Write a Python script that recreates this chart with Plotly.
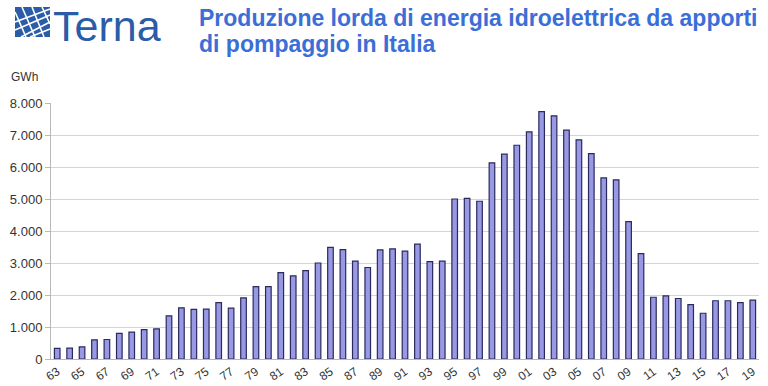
import plotly.graph_objects as go

years = [f"{y % 100:02d}" for y in range(1963, 2020)]
values = [330, 340, 380, 600, 610, 800, 840, 920, 940, 1350, 1600, 1550, 1560, 1760, 1590, 1910,
          2260, 2260, 2700, 2600, 2760, 3000, 3490, 3420, 3060, 2860, 3410, 3440, 3370, 3590, 3040, 3060,
          5000, 5020, 4930, 6130, 6400, 6680, 7100, 7730, 7600, 7150, 6850, 6420, 5660, 5600, 4290, 3290,
          1930, 1970, 1890, 1700, 1430, 1820, 1820, 1760, 1840]
tick_labels = years[::2]
y_ticks = [0, 1000, 2000, 3000, 4000, 5000, 6000, 7000, 8000]

W, H = 768, 386
ML, MR, MT, MB = 51, 9, 103, 27
PW, PH = W - ML - MR, H - MT - MB

def px(x):
    return (x - ML) / PW

def py(y):
    return (H - MB - y) / PH

fig = go.Figure()
fig.add_trace(go.Bar(
    x=years, y=values,
    marker=dict(color="#9898e4", line=dict(color="#2a2a5c", width=1.2)),
    hoverinfo="x+y",
))

shapes = []
# logo square
shapes.append(dict(type="rect", xref="paper", yref="paper",
                   x0=px(15), x1=px(50), y0=py(37), y1=py(7),
                   fillcolor="#2a5ca8", line=dict(width=0), layer="above"))
logo_lines = [((15, 22), (50, 9)), ((15, 30), (50, 15)), ((21, 37), (50, 22)),
              ((30, 37), (50, 29)), ((22, 7), (35, 37)), ((32, 7), (44, 37)),
              ((15, 12), (26, 37)), ((42, 7), (50, 24))]
for (a, b) in logo_lines:
    shapes.append(dict(type="line", xref="paper", yref="paper",
                       x0=px(a[0]), y0=py(a[1]), x1=px(b[0]), y1=py(b[1]),
                       line=dict(color="white", width=1.6), layer="above"))

annotations = [
    dict(text="Terna", xref="paper", yref="paper", x=px(51), y=py(0),
         xanchor="left", yanchor="top", showarrow=False,
         font=dict(family="Liberation Sans, Arial", size=43, color="#2a5ca8")),
    dict(text="<b>Produzione lorda di energia idroelettrica da apporti</b>",
         xref="paper", yref="paper", x=px(197), y=py(18),
         xanchor="left", yanchor="middle", showarrow=False,
         font=dict(family="Liberation Sans, Arial", size=23, color="#3b6ed6")),
    dict(text="<b>di pompaggio in Italia</b>",
         xref="paper", yref="paper", x=px(197), y=py(44),
         xanchor="left", yanchor="middle", showarrow=False,
         font=dict(family="Liberation Sans, Arial", size=23, color="#3b6ed6")),
    dict(text="GWh", xref="paper", yref="paper", x=px(9), y=py(77),
         xanchor="left", yanchor="middle", showarrow=False,
         font=dict(family="Liberation Sans, Arial", size=12, color="#333333")),
]

fig.update_layout(
    width=W, height=H,
    margin=dict(l=ML, r=MR, t=MT, b=MB, autoexpand=False),
    paper_bgcolor="white", plot_bgcolor="white",
    separators=",.",
    bargap=0.55,
    showlegend=False,
    shapes=shapes,
    annotations=annotations,
    font=dict(family="Liberation Sans, Arial", color="#333333"),
)
fig.update_xaxes(
    type="category", tickmode="array", tickvals=tick_labels, ticktext=tick_labels,
    tickangle=-35, tickfont=dict(size=12, color="#333333"),
    showgrid=False, showline=True, linecolor="#b8b8b8", linewidth=1,
    ticks="", automargin=False, range=[-0.5, len(years) - 0.5],
)
fig.update_yaxes(
    range=[0, 8000], tickvals=y_ticks, tickformat=",d",
    tickfont=dict(size=13, color="#333333"),
    showgrid=True, gridcolor="#d4d4d4", gridwidth=1,
    showline=True, linecolor="#b8b8b8", linewidth=1,
    ticks="outside", ticklen=5, tickcolor="#b8b8b8",
    zeroline=False, automargin=False,
)

fig.write_html(
    "out.html",
    config={"displayModeBar": False},
    post_script="document.body.style.margin='0';document.body.style.overflow='hidden';",
)
